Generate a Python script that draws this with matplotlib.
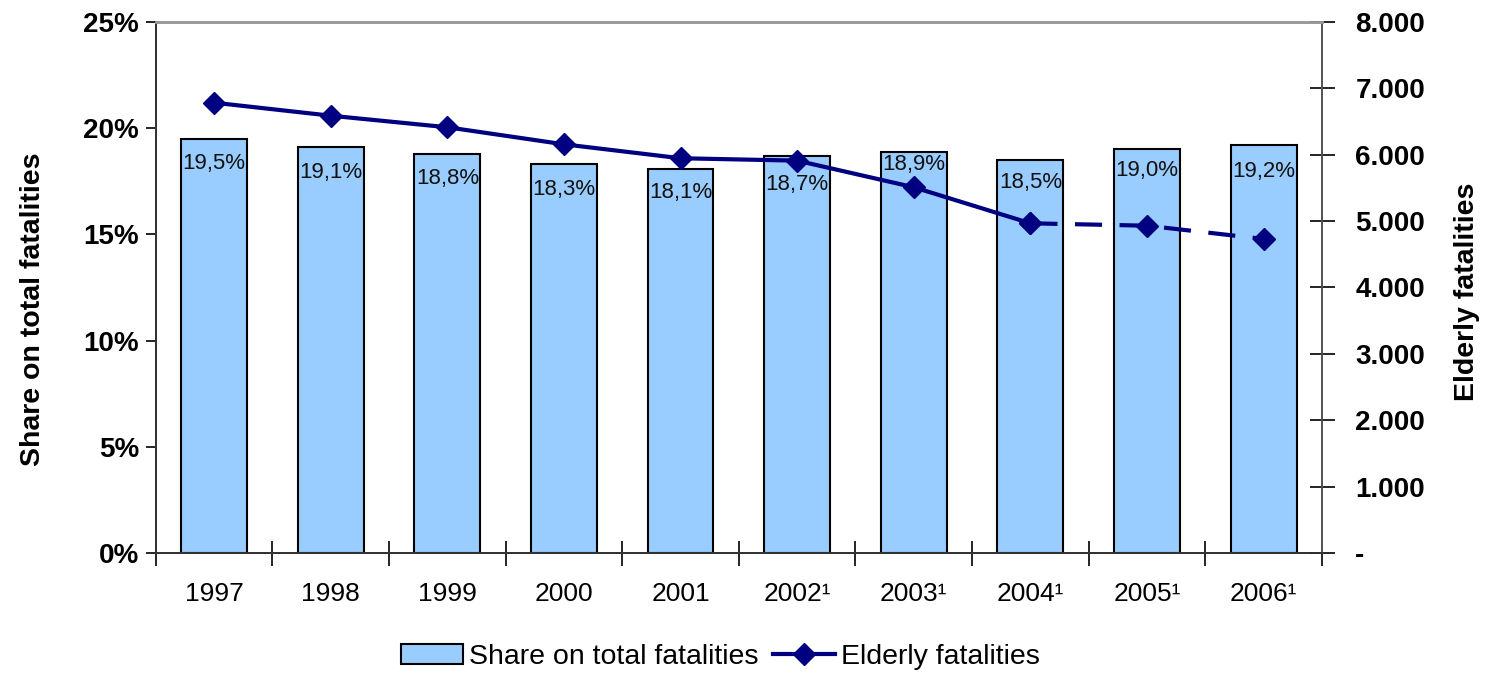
import numpy as np
import matplotlib.pyplot as plt
from matplotlib.ticker import FuncFormatter, FixedLocator
from matplotlib.lines import Line2D
from matplotlib.patches import Patch

plt.rcParams['font.family'] = ['Liberation Sans', 'DejaVu Sans']

years = ['1997', '1998', '1999', '2000', '2001',
         '2002\u00b9', '2003\u00b9', '2004\u00b9', '2005\u00b9', '2006\u00b9']
share = [19.5, 19.1, 18.8, 18.3, 18.1, 18.7, 18.9, 18.5, 19.0, 19.2]
elderly = [6784, 6588, 6414, 6157, 5947, 5911, 5510, 4967, 4931, 4731]
share_labels = ['19,5%', '19,1%', '18,8%', '18,3%', '18,1%',
                '18,7%', '18,9%', '18,5%', '19,0%', '19,2%']

# label offset below bar top (pixels), moved around the line like the original
label_off = [25, 25, 25, 25, 24, 29, 13, 22, 21, 26]

bar_color = '#99CCFF'
line_color = '#000080'

fig = plt.figure(figsize=(14.85, 6.74), dpi=100)
ax = fig.add_axes([0.1049, 0.1795, 0.7853, 0.7879])
ax2 = ax.twinx()

x = np.arange(len(years))
ax.bar(x, share, width=0.565, color=bar_color, edgecolor='black', linewidth=1.5, zorder=2)
for xi, v, lab, off in zip(x, share, share_labels, label_off):
    ax.annotate(lab, (xi, v), xytext=(0, -off * 0.72), textcoords='offset points',
                ha='center', va='center', fontsize=16, color='#111111', zorder=3)

ax.set_xlim(-0.5, len(years) - 0.5)
ax.set_ylim(0, 25)
ax.set_yticks(np.arange(0, 26, 5))
ax.yaxis.set_major_formatter(FuncFormatter(lambda v, p: f'{v:.0f}%'))
ax.tick_params(axis='y', direction='out', length=7, width=1.2, labelsize=20, pad=5)
for t in ax.get_yticklabels():
    t.set_fontweight('bold')

ax.set_xticks(x)
ax.set_xticklabels(years)
ax.xaxis.set_minor_locator(FixedLocator(np.arange(-0.5, len(years), 1.0)))
ax.tick_params(axis='x', which='major', length=0, labelsize=19, pad=21)
ax.tick_params(axis='x', which='minor', direction='inout', length=18, width=1.2)

ax2.plot(x[:8], elderly[:8], color=line_color, lw=3.0, marker='D', markersize=11, zorder=4)
ax2.plot(x[7:], elderly[7:], color=line_color, lw=3.0, dashes=(6.5, 4.2), marker='D',
         markersize=11, zorder=4)
ax2.set_ylim(0, 8000)
ax2.set_yticks(np.arange(0, 8001, 1000))
ax2.yaxis.set_major_formatter(FuncFormatter(
    lambda v, p: '-' if v == 0 else f'{int(v):,}'.replace(',', '.')))
ax2.tick_params(axis='y', direction='inout', length=18, width=1.2, labelsize=20, pad=15)
for t in ax2.get_yticklabels():
    t.set_fontweight('bold')

ax.set_zorder(ax2.get_zorder() - 1)
ax.patch.set_visible(True)
ax2.patch.set_visible(False)

for a in (ax, ax2):
    a.spines['top'].set_color('#999999')
    a.spines['top'].set_linewidth(2)
    a.spines['left'].set_color('#333333')
    a.spines['left'].set_linewidth(1.3)
    a.spines['right'].set_color('#555555')
    a.spines['right'].set_linewidth(1.3)
    a.spines['bottom'].set_color('#333333')
    a.spines['bottom'].set_linewidth(1.3)

fig.text(0.022, 0.5415, 'Share on total fatalities', rotation=90, fontsize=20.5,
         fontweight='bold', ha='center', va='center')
fig.text(0.988, 0.567, 'Elderly fatalities', rotation=90, fontsize=20.5,
         fontweight='bold', ha='center', va='center')

handles = [Patch(facecolor=bar_color, edgecolor='black', linewidth=1.5),
           Line2D([0], [0], color=line_color, lw=3.0, marker='D', markersize=11)]
fig.legend(handles, ['Share on total fatalities', 'Elderly fatalities'],
           loc='center', bbox_to_anchor=(0.485, 0.025), ncol=2, frameon=False,
           fontsize=20.5, handlelength=2.2, handletextpad=0.2, columnspacing=0.5)

fig.savefig('out.png', dpi=100)
